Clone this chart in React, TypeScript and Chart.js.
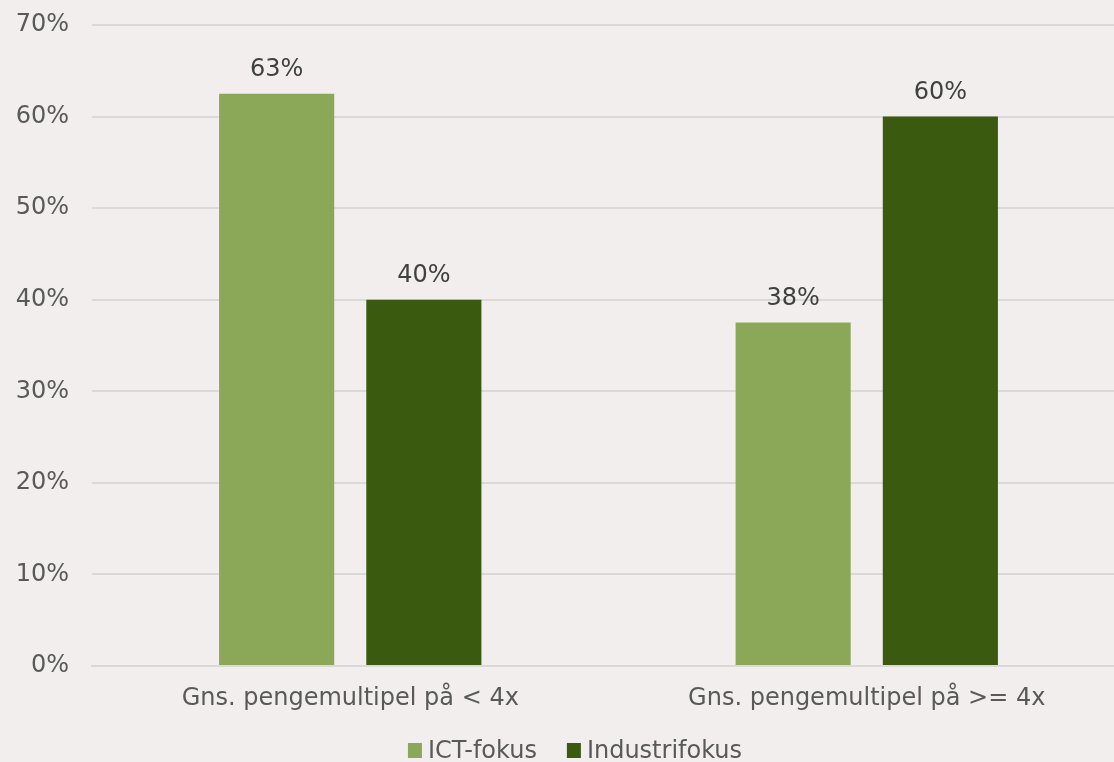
import React, { useEffect, useRef } from "react";
import { Chart, registerables } from "chart.js";

Chart.register(...registerables);

const categories = ["Gns. pengemultipel på < 4x", "Gns. pengemultipel på >= 4x"];
const seriesNames = ["ICT-fokus", "Industrifokus"];
const seriesColors = ["#8BA858", "#3A5A10"];
const ictValues = [0.625, 0.375];
const industriValues = [0.4, 0.6];
const yTicks = [0, 0.1, 0.2, 0.3, 0.4, 0.5, 0.6, 0.7];

const FONT = "'DejaVu Sans', Verdana, sans-serif";
const BG = "#F2EEED";

const labelPlugin = {
  id: "valueLabels",
  afterDatasetsDraw(chart: any) {
    const ctx = chart.ctx;
    ctx.save();
    ctx.font = `24px ${FONT}`;
    ctx.fillStyle = "#404040";
    ctx.textAlign = "center";
    ctx.textBaseline = "middle";
    chart.data.datasets.forEach((ds: any, di: number) => {
      const meta = chart.getDatasetMeta(di);
      meta.data.forEach((el: any, i: number) => {
        const v = ds.data[i] as number;
        ctx.fillText(Math.round(v * 100) + "%", el.x, el.y - 24);
      });
    });
    ctx.restore();
  },
};

const legendPlugin = {
  id: "customLegend",
  afterDraw(chart: any) {
    const ctx = chart.ctx;
    ctx.save();
    ctx.font = `24px ${FONT}`;
    ctx.textBaseline = "alphabetic";
    ctx.textAlign = "left";
    const box = 14;
    const gapText = 6;
    const gapItem = 30;
    const widths = seriesNames.map((n) => ctx.measureText(n).width);
    const total = widths.reduce((a, w) => a + box + gapText + w, 0) + gapItem * (seriesNames.length - 1);
    let x = 575 - total / 2;
    const baseY = 758;
    seriesNames.forEach((n, i) => {
      ctx.fillStyle = seriesColors[i];
      ctx.fillRect(x, baseY - 15, box, box + 1);
      x += box + gapText;
      ctx.fillStyle = "#595959";
      ctx.fillText(n, x, baseY);
      x += widths[i] + gapItem;
    });
    ctx.restore();
  },
};

const bgPlugin = {
  id: "bg",
  beforeDraw(chart: any) {
    const ctx = chart.ctx;
    ctx.save();
    ctx.fillStyle = BG;
    ctx.fillRect(0, 0, chart.width, chart.height);
    ctx.restore();
  },
};

export default function App() {
  const ref = useRef<HTMLCanvasElement>(null);
  useEffect(() => {
    document.body.style.margin = "0";
    document.body.style.background = BG;
    const chart = new Chart(ref.current!, {
      type: "bar",
      data: {
        labels: categories,
        datasets: [
          {
            label: seriesNames[0],
            data: ictValues,
            backgroundColor: seriesColors[0],
            categoryPercentage: 0.57,
            barPercentage: 0.782,
          },
          {
            label: seriesNames[1],
            data: industriValues,
            backgroundColor: seriesColors[1],
            categoryPercentage: 0.57,
            barPercentage: 0.782,
          },
        ],
      },
      options: {
        animation: false,
        responsive: false,
        maintainAspectRatio: false,
        layout: { padding: { left: 16, top: 25, right: 0, bottom: 0 } },
        plugins: {
          legend: { display: false },
          tooltip: { enabled: false },
        },
        scales: {
          x: {
            grid: { display: false, drawTicks: false },
            border: { color: "#D9D9D9", width: 2 },
            afterFit: (axis: any) => {
              axis.height = 96;
            },
            ticks: {
              font: { family: FONT, size: 24 },
              color: "#595959",
              padding: 18,
              maxRotation: 0,
            },
          },
          y: {
            min: 0,
            max: 0.7,
            afterBuildTicks: (axis: any) => {
              axis.ticks = yTicks.map((v) => ({ value: v }));
            },
            afterFit: (axis: any) => {
              axis.width = 76;
              axis.paddingTop = 0;
              axis.paddingBottom = 0;
            },
            grid: { color: "#D9D9D9", lineWidth: 2, drawTicks: false },
            border: { display: false },
            ticks: {
              font: { family: FONT, size: 24 },
              color: "#595959",
              padding: 23,
              callback: (v: any) => Math.round(Number(v) * 100) + "%",
            },
          },
        },
      },
      plugins: [bgPlugin, labelPlugin, legendPlugin],
    });
    return () => chart.destroy();
  }, []);
  return (
    <div style={{ width: 1114, height: 762, overflow: "hidden", position: "relative", background: BG }}>
      <canvas ref={ref} width={1125} height={762} style={{ display: "block", width: 1125, height: 762 }} />
    </div>
  );
}
